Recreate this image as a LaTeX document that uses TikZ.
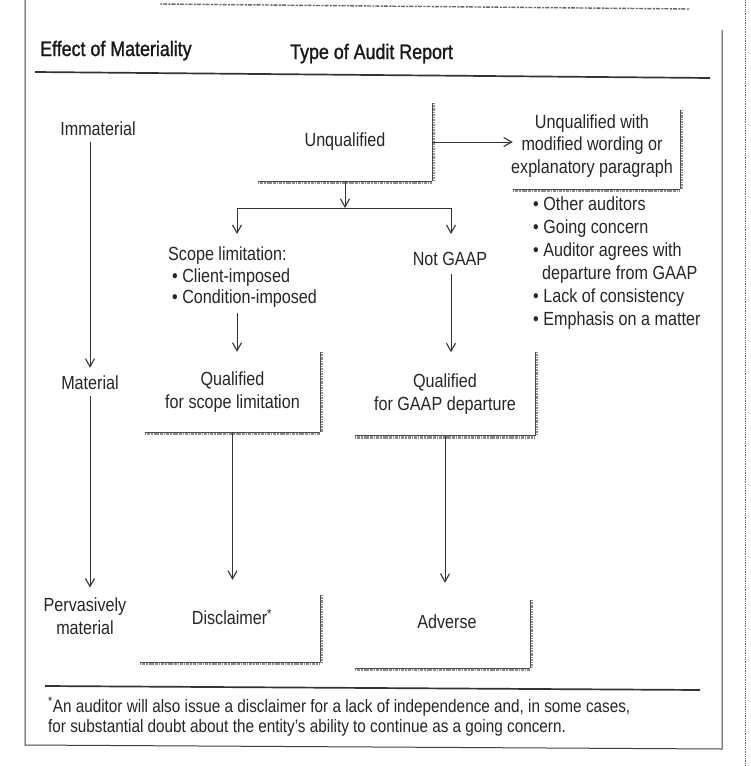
\documentclass[tikz,border=0pt]{standalone}
\usepackage{fontspec}
\setmainfont{Liberation Sans}[FakeStretch=0.85]
\newfontfamily\hdrfont{Liberation Sans}[FakeStretch=0.85, FakeBold=1.3]
\usetikzlibrary{arrows.meta}
\begin{document}
\begin{tikzpicture}[x=1pt,y=-1pt,
  txt/.style={inner sep=0pt, text=black!85, font=\fontsize{19}{22.5}\selectfont, align=center},
  hdr/.style={inner sep=0pt, text=black!90, font=\hdrfont\fontsize{21}{24}\selectfont},
  rbox/.style={inner sep=0pt, text=black!85, font=\fontsize{19}{22.5}\selectfont, align=center},
  ebox/.style={inner sep=0pt},
  arr/.style={line width=0.9pt, draw=black!80, -{Straight Barb[length=8pt,width=9pt,line width=1.1pt]}},
  ln/.style={line width=0.9pt, draw=black!80},
  shadeB/.style={line width=1.3pt, draw=black!70},
  texB/.style={line width=2.6pt, draw=black!45, dash pattern=on 1.5pt off 1pt on 3pt off 0.8pt},
  shadeR/.style={line width=1.1pt, draw=black!70},
  texR/.style={line width=2.4pt, draw=black!45, dash pattern=on 1pt off 0.8pt on 2pt off 1pt},
  frame/.style={line width=1pt, draw=black!75},
  rule/.style={line width=1.7pt, draw=black!80}]
\useasboundingbox (0,0) rectangle (751,766);
\fill[white] (0,0) rectangle (751,766);

% outer frame and scan edges
\draw[frame] (25,0) -- (25,745) -- (722,749) -- (722,30);
\draw[line width=1.4pt, black!60, dash pattern=on 2pt off 1pt on 4pt off 1.5pt] (160,4) -- (690,9);
\draw[line width=0.8pt, black!60, densely dotted] (745,0) -- (745,766);

% headers
\node[hdr, anchor=base west] (hm) at (40,56) {Effect of Materiality};
\node[hdr, anchor=base west] (ht) at (290,59) {Type of Audit Report};
\draw[rule] (35,72) -- (710,78);

% left column
\node[txt] (imm) at (98,129) {Immaterial};
\node[txt] (mat) at (90,383) {Material};
\node[txt] (perv) at (85,616) {Pervasively\\material};
\draw[arr, shorten <=6pt, shorten >=8pt] (imm.south -| mat.north) -- (mat.north);
\draw[arr, shorten <=6pt, shorten >=10pt] (mat.south) -- (mat.south |- perv.north);

% boxes
\node[rbox, minimum width=174pt, minimum height=78pt] (u) at (345,142) {Unqualified};
\node[ebox, minimum width=167pt, minimum height=79pt] (umbox) at (596.5,149.5) {};
\node[txt] (um) at (592,146)
  {Unqualified with\\modified wording or\\explanatory paragraph};
\node[rbox, minimum width=175pt, minimum height=80pt] (qs) at (232.5,392)
  {Qualified\\for scope limitation};
\node[rbox, minimum width=180pt, minimum height=83pt] (qg) at (445,394)
  {Qualified\\for GAAP departure};
\node[ebox, minimum width=180pt, minimum height=67pt] (dbox) at (230,628.5) {};
\node[ebox, minimum width=175pt, minimum height=68pt] (abox) at (442.5,634) {};
\node[txt] (d) at (232,617) {Disclaimer\textsuperscript{*}};
\node[txt] (a) at (447,622) {Adverse};

\foreach \b in {u,umbox,qs,qg,dbox,abox}{
  \draw[texB] ([yshift=-1.6pt]\b.south west) -- ([yshift=-1.6pt]\b.south east);
  \draw[shadeB] (\b.south west) -- (\b.south east);
  \draw[texR] ([xshift=1.4pt]\b.north east) -- ([xshift=1.4pt]\b.south east);
  \draw[shadeR] (\b.north east) -- (\b.south east);
}

% bullet list
\node[txt, align=left, anchor=north west, font=\fontsize{19}{23}\selectfont] (bl) at (533,197)
  {\textbullet\ Other auditors\\
   \textbullet\ Going concern\\
   \textbullet\ Auditor agrees with\\
   \hspace*{9pt}departure from GAAP\\
   \textbullet\ Lack of consistency\\
   \textbullet\ Emphasis on a matter};

% branches
\coordinate (sl) at (237,208);
\coordinate (sr) at (451,208);
\node[txt, align=left, anchor=north west, font=\fontsize{19}{21.5}\selectfont] (scope) at (168,247)
  {Scope limitation:\\
   \hspace*{4pt}\textbullet\ Client-imposed\\
   \hspace*{4pt}\textbullet\ Condition-imposed};
\node[txt] (ng) at (450,259) {Not GAAP};

\draw[arr] (u.east) -- (u.east -| umbox.west);
\draw[arr] (u.south) -- (u.south |- sl);
\draw[ln] (sl) -- (sr);
\draw[arr, shorten >=13pt] (sl) -- (sl |- scope.north);
\draw[arr, shorten >=18pt] (sr) -- (sr |- ng.north);
\draw[arr, shorten <=5pt] (sl |- scope.south) -- (sl |- qs.north);
\draw[arr, shorten <=8pt] (sr |- ng.south) -- (sr |- qg.north);
\draw[arr, shorten >=15pt] (qs.south) -- (qs.south |- dbox.north);
\draw[arr, shorten >=17pt] (qg.south) -- (qg.south |- abox.north);

% footnote
\draw[rule] (45,686) -- (700,690);
\node[txt, align=left, anchor=north west, font=\fontsize{18}{20.5}\selectfont] (fn) at (48,697)
  {\textsuperscript{*}An auditor will also issue a disclaimer for a lack of independence and, in some cases,\\
   for substantial doubt about the entity's ability to continue as a going concern.};
\end{tikzpicture}
\end{document}
